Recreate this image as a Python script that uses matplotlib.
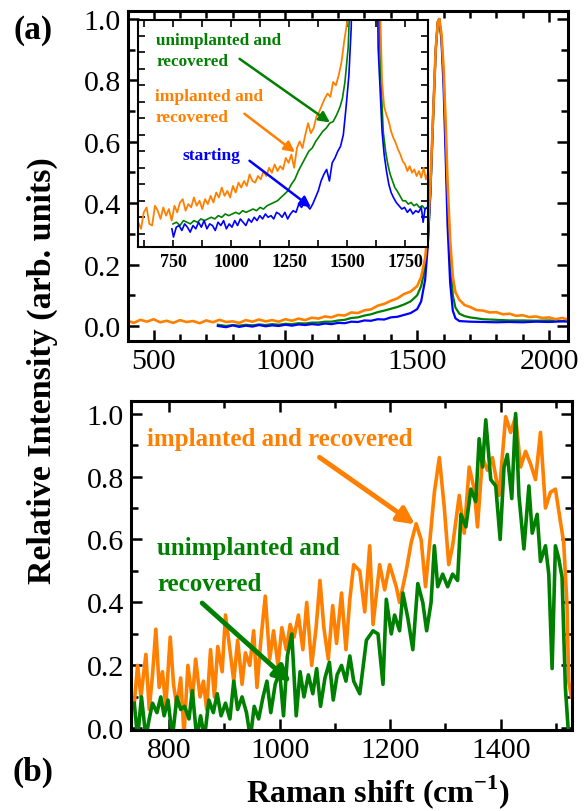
import numpy as np
from matplotlib import pyplot as plt

plt.rcParams['font.family'] = ['Liberation Serif', 'DejaVu Serif']
plt.rcParams['mathtext.fontset'] = 'custom'
plt.rcParams['mathtext.rm'] = 'Liberation Serif'
plt.rcParams['mathtext.bf'] = 'Liberation Serif:bold'

ORANGE = '#ff8000'
GREEN = '#008000'
BLUE = '#0000ff'

#-------------------------------------------------- (a) main spectra
a_orange_x = [400, 425, 450, 475, 500, 525, 550, 575, 600, 625, 650, 675, 700, 725, 750, 775,
              800, 825, 850, 875, 900, 925, 950, 975, 1000, 1025, 1050, 1075, 1100, 1125, 1150,
              1175, 1200, 1225, 1250, 1275, 1300, 1325, 1350, 1375, 1400, 1425, 1450, 1475, 1500,
              1515, 1530, 1540, 1550, 1560, 1570, 1578, 1584, 1592, 1600, 1608, 1615, 1625, 1635,
              1645, 1660, 1680, 1700, 1725, 1750, 1775, 1800, 1825, 1850, 1875, 1900, 1925, 1950,
              1975, 2000, 2025, 2050, 2072]
a_orange = [.018, .010, .020, .014, .022, .012, .017, .010, .019, .013, .016, .009, .018, .012, .020, .013,
            .015, .010, .019, .014, .021, .015, .019, .014, .022, .017, .024, .019, .027, .024, .031,
            .028, .036, .034, .044, .042, .051, .054, .066, .072, .082, .090, .104, .112, .13,
            .16, .22, .31, .46, .68, .90, .99, 1.0, .95, .84, .66, .47, .28, .16,
            .11, .085, .068, .062, .052, .050, .044, .045, .038, .040, .033, .035, .029, .031,
            .026, .028, .022, .026, .021]

a_green_x = [744, 775, 800, 825, 850, 875, 900, 925, 950, 975, 1000, 1025, 1050, 1075, 1100, 1125,
             1150, 1175, 1200, 1225, 1250, 1275, 1300, 1325, 1350, 1375, 1400, 1425, 1450, 1475,
             1500, 1515, 1530, 1540, 1550, 1560, 1570, 1578, 1584, 1592, 1600, 1608, 1615, 1625,
             1635, 1645, 1660, 1680, 1700, 1750, 1800, 1850, 1900, 1950, 2000, 2050, 2072]
a_green = [.004, .000, .003, .001, .004, .002, .005, .003, .006, .004, .007, .006, .009, .008, .011, .011,
           .014, .014, .018, .020, .026, .028, .034, .038, .045, .050, .056, .062, .070, .080,
           .100, .13, .19, .27, .43, .66, .89, .99, 1.0, .94, .82, .62, .42, .22,
           .10, .06, .04, .032, .028, .022, .020, .018, .018, .017, .018, .016, .018]

a_blue_x = a_green_x
a_blue = [.000, -.004, .002, -.003, .001, -.002, .003, -.001, .002, .000, .004, .001, .005, .003, .006, .004,
          .008, .006, .010, .009, .014, .013, .018, .017, .022, .021, .028, .030, .036, .042,
          .055, .08, .15, .26, .44, .68, .90, .99, 1.0, .93, .78, .55, .33, .14,
          .05, .025, .016, .015, .014, .013, .012, .013, .012, .014, .013, .015, .014]

#-------------------------------------------------- (a) inset
in_orange_x = [600, 612, 624, 636, 648, 660, 672, 684, 696, 708, 720, 732, 744, 756, 768, 780, 792,
               804, 816, 828, 840, 852, 864, 876, 888, 900, 912, 924, 936, 948, 960, 972, 984, 996,
               1008, 1020, 1032, 1044, 1056, 1068, 1080, 1092, 1104, 1116, 1128, 1140, 1152, 1164,
               1176, 1188, 1200, 1212, 1224, 1236, 1248, 1260, 1272, 1284, 1296, 1308, 1320, 1332,
               1344, 1356, 1368, 1380, 1392, 1404, 1416, 1428, 1440, 1452, 1464, 1476, 1488, 1500,
               1510, 1540, 1582, 1620, 1640, 1651, 1660, 1670, 1680, 1690, 1700, 1710, 1720, 1730,
               1740, 1750, 1760, 1770, 1780, 1790, 1800, 1810, 1820, 1830, 1840, 1849]
in_orange = [.015, .011, .021, .024, .014, .013, .025, .022, .017, .024, .019, .023, .016, .025, .021,
             .027, .029, .022, .026, .024, .030, .025, .028, .023, .029, .026, .031, .027, .033, .030,
             .036, .031, .034, .030, .037, .033, .039, .036, .040, .037, .044, .040, .039, .043, .041,
             .046, .043, .048, .045, .050, .046, .049, .047, .054, .051, .056, .048, .060, .064, .060,
             .068, .075, .069, .072, .079, .082, .086, .090, .093, .091, .100, .098, .104, .112, .125,
             .136, .20, .45, 1.0, .45, .16, .100, .085, .080, .076, .070, .066, .063, .059, .056,
             .052, .050, .046, .049, .045, .047, .043, .046, .042, .048, .041, .045]

in_green_x = [750, 765, 780, 795, 810, 825, 840, 855, 870, 885, 900, 915, 930, 945, 960, 975, 990,
              1005, 1020, 1035, 1050, 1065, 1080, 1095, 1110, 1125, 1140, 1155, 1170, 1185, 1200,
              1215, 1230, 1245, 1260, 1275, 1290, 1305, 1320, 1335, 1350, 1365, 1380, 1395, 1410,
              1425, 1440, 1455, 1470, 1480, 1491, 1505, 1525, 1582, 1630, 1643, 1656, 1666, 1676,
              1686, 1696, 1706, 1716, 1728, 1740, 1752, 1764, 1776, 1788, 1800, 1812, 1824, 1836, 1849]
in_green = [.014, .015, .013, .016, .015, .014, .016, .015, .017, .016, .017, .018, .017, .019, .018,
            .020, .019, .020, .021, .020, .022, .021, .022, .023, .022, .024, .023, .025, .026, .027,
            .028, .030, .032, .034, .038, .041, .046, .050, .054, .058, .060, .064, .067, .070, .072,
            .075, .076, .080, .085, .090, .100, .121, .20, 1.0, .20, .111, .070, .058, .050,
            .044, .040, .036, .034, .031, .028, .028, .026, .027, .025, .026, .024, .025, .023, .024]

in_blue_x = [745, 752, 764, 776, 788, 800, 812, 824, 836, 848, 860, 872, 884, 896, 908, 920, 932,
             944, 956, 968, 980, 992, 1004, 1016, 1028, 1040, 1052, 1064, 1076, 1088, 1100, 1112,
             1124, 1136, 1148, 1160, 1172, 1184, 1196, 1208, 1220, 1232, 1244, 1256, 1268, 1280,
             1292, 1304, 1316, 1328, 1340, 1352, 1364, 1376, 1388, 1400, 1412, 1424, 1436, 1448,
             1460, 1472, 1484, 1496, 1508, 1518, 1530, 1582, 1625, 1634, 1651, 1660, 1670, 1680,
             1690, 1700, 1712, 1724, 1736, 1748, 1760, 1772, 1784, 1796, 1808, 1820, 1828, 1836, 1845]
in_blue = [.011, .006, .012, .013, .010, .014, .012, .009, .013, .011, .015, .012, .016, .011, .014,
           .013, .010, .015, .013, .016, .011, .014, .012, .016, .013, .017, .015, .013, .017, .015,
           .018, .016, .019, .017, .020, .018, .019, .017, .021, .020, .018, .021, .017, .020, .022,
           .021, .026, .024, .027, .025, .023, .026, .030, .034, .040, .044, .047, .040, .051, .054,
           .058, .061, .068, .085, .104, .133, .25, 1.0, .25, .121, .070, .056, .046, .038,
           .033, .030, .027, .025, .023, .024, .021, .023, .020, .022, .021, .024, .015, .023, .024]

#-------------------------------------------------- (b) spectra
b_orange_x = [737, 743, 749, 758, 764, 770, 776, 782, 788, 794, 802, 808, 814, 821, 827, 834, 842,
              848, 856, 862, 868, 875, 882, 888, 896, 902, 910, 917, 924, 932, 938, 946, 953, 959,
              966, 974, 982, 989, 997, 1004, 1012, 1019, 1026, 1034, 1042, 1049, 1058, 1066, 1073,
              1080, 1088, 1096, 1103, 1112, 1120, 1127, 1134, 1145, 1154, 1163, 1169, 1181, 1190,
              1199, 1211, 1217, 1229, 1238, 1247, 1256, 1264, 1271, 1280, 1289, 1298, 1306, 1313,
              1325, 1334, 1343, 1352, 1358, 1367, 1376, 1385, 1397, 1409, 1418, 1427, 1436, 1445,
              1454, 1463, 1472, 1481, 1490, 1499, 1506, 1514, 1520, 1523, 1528]
b_orange = [.08, .20, .10, .235, .06, .17, .315, .13, .18, .07, .29, .14, .07, .16, -.02, .20, .09,
            .22, .10, .15, .06, .25, .10, .26, .18, .36, .25, .15, .28, .14, .24, .20, .31, .13,
            .28, .42, .22, .31, .20, .32, .25, .33, .29, .36, .25, .40, .20, .32, .47,
            .32, .22, .39, .27, .43, .25, .41, .52, .50, .37, .58, .33, .52, .44,
            .52, .45, .40, .50, .59, .65, .60, .45, .58, .75, .86, .70, .52, .58,
            .74, .62, .83, .76, .64, .86, .82, .86, .74, .99, .94, .99, .83, .88,
            .84, .79, .94, .70, .75, .76, .68, .59, .39, .15, .10]

b_green_x = [737, 743, 750, 758, 764, 770, 778, 785, 791, 798, 806, 814, 821, 828, 836, 842, 850,
             857, 864, 872, 880, 887, 894, 902, 910, 917, 924, 932, 940, 947, 954, 962, 970, 977,
             984, 992, 1000, 1007, 1014, 1022, 1030, 1037, 1044, 1052, 1060, 1067, 1074, 1082,
             1090, 1097, 1104, 1112, 1120, 1127, 1134, 1145, 1157, 1169, 1178, 1187, 1193, 1202,
             1208, 1217, 1223, 1232, 1241, 1250, 1259, 1266, 1274, 1280, 1286, 1295, 1304, 1313,
             1322, 1328, 1337, 1346, 1355, 1361, 1367, 1373, 1382, 1391, 1399, 1406, 1412, 1420,
             1427, 1433, 1442, 1451, 1457, 1466, 1472, 1481, 1487, 1493, 1499, 1505, 1511, 1517, 1522]
b_green = [.08, -.03, .10, -.03, .03, .08, .05, .10, .04, .09, -.03, .10, .06, .07, .03, .12, -.03,
           .04, -.03, .09, .05, .11, .04, .08, .03, .15, .06, .10, .05, -.03, .07, .03, .10, .15,
           .05, .14, .18, .04, .23, .30, .04, .18, .10, .17, .11, .19, .07, .16,
           .21, .09, .17, .20, .15, .23, .15, .11, .28, .31, .30, .14, .41, .30,
           .36, .31, .43, .35, .25, .46, .40, .31, .40, .58, .45, .49, .45, .49,
           .47, .68, .64, .76, .72, .92, .83, .98, .79, .77, .60, .83, .87, .73,
           1.0, .74, .57, .77, .62, .68, .53, .58, .49, .19, .58, .54, .48, .13, .0]

#--------------------------------------------------
fig = plt.figure(figsize=(5.86, 8.12), dpi=100)


def style_axes(ax, lw=2.2):
    for s in ax.spines.values():
        s.set_linewidth(lw)
    ax.tick_params(which='both', direction='in', top=True, right=True, width=1.8)
    ax.tick_params(which='major', length=8)
    ax.tick_params(which='minor', length=5)


# top panel
ax1 = fig.add_axes([0.2184, 0.5788, 0.7509, 0.4064])
ax1.plot(a_green_x, a_green, color=GREEN, lw=1.6)
ax1.plot(a_blue_x, a_blue, color=BLUE, lw=1.6)
ax1.plot(a_orange_x, a_orange, color=ORANGE, lw=1.9)
ax1.set_xlim(403, 2072)
ax1.set_ylim(-0.049, 1.026)
ax1.set_xticks([500, 1000, 1500, 2000])
ax1.set_xticks(np.arange(500, 2100, 100), minor=True)
ax1.set_yticks([0.0, 0.2, 0.4, 0.6, 0.8, 1.0])
ax1.set_yticks(np.arange(0.1, 1.0, 0.2), minor=True)
ax1.set_yticklabels(['0.0', '0.2', '0.4', '0.6', '0.8', '1.0'])
style_axes(ax1)
ax1.tick_params(labelsize=21.5, pad=5)

# inset
ax2 = fig.add_axes([0.2355, 0.6946, 0.4949, 0.2796])
ax2.plot(in_green_x, in_green, color=GREEN, lw=1.2)
ax2.plot(in_blue_x, in_blue, color=BLUE, lw=1.2)
ax2.plot(in_orange_x, in_orange, color=ORANGE, lw=1.3)
ax2.set_xlim(599, 1849)
ax2.set_ylim(0, 0.1376)
ax2.set_xticks([750, 1000, 1250, 1500, 1750])
ax2.set_xticks([625, 875, 1125, 1375, 1625], minor=True)
ax2.set_yticks(np.arange(0.008, 0.137, 0.01))
ax2.set_yticklabels([])
for s in ax2.spines.values():
    s.set_linewidth(1.5)
ax2.tick_params(which='both', direction='in', top=True, right=True, width=1.2, length=5)
ax2.tick_params(axis='x', labelsize=13, pad=4)
for t in ax2.get_xticklabels():
    t.set_fontweight('bold')

ax2.text(678, 0.1255, 'unimplanted and', color=GREEN, fontsize=12.3, fontweight='bold', va='center')
ax2.text(678, 0.1127, 'recovered', color=GREEN, fontsize=12.3, fontweight='bold', va='center')
ax2.text(673, 0.0915, 'implanted and', color=ORANGE, fontsize=12.5, fontweight='bold', va='center')
ax2.text(673, 0.0788, 'recovered', color=ORANGE, fontsize=12.5, fontweight='bold', va='center')
ax2.text(790, 0.0558, 'starting', color=BLUE, fontsize=12.5, fontweight='bold', va='center')
ax2.annotate('', xy=(1436, 0.0745), xytext=(1027, 0.115),
             arrowprops=dict(arrowstyle='-|>', color=GREEN, lw=1.8, mutation_scale=16))
ax2.annotate('', xy=(1285, 0.0564), xytext=(1048, 0.0818),
             arrowprops=dict(arrowstyle='-|>', color=ORANGE, lw=1.8, mutation_scale=16))
ax2.annotate('', xy=(1354, 0.023), xytext=(1070, 0.0533),
             arrowprops=dict(arrowstyle='-|>', color=BLUE, lw=1.8, mutation_scale=16))

# bottom panel
ax3 = fig.add_axes([0.2235, 0.0998, 0.7526, 0.4052])
ax3.plot(b_orange_x, b_orange, color=ORANGE, lw=2.6)
ax3.plot(b_green_x, b_green, color=GREEN, lw=2.6)
ax3.set_xlim(731, 1529)
ax3.set_ylim(-0.005, 1.04)
ax3.set_xticks([800, 1000, 1200, 1400])
ax3.set_xticks(np.arange(800, 1530, 100), minor=True)
ax3.set_yticks([0.0, 0.2, 0.4, 0.6, 0.8, 1.0])
ax3.set_yticks(np.arange(0.1, 1.0, 0.2), minor=True)
ax3.set_yticklabels(['0.0', '0.2', '0.4', '0.6', '0.8', '1.0'])
style_axes(ax3)
ax3.tick_params(labelsize=21.5, pad=5)

ax3.text(760, 0.92, 'implanted and recovered', color=ORANGE, fontsize=18, fontweight='bold', va='center')
ax3.text(778, 0.576, 'unimplanted and', color=GREEN, fontsize=18, fontweight='bold', va='center')
ax3.text(778, 0.459, 'recovered', color=GREEN, fontsize=18, fontweight='bold', va='center')
ax3.annotate('', xy=(1249, 0.643), xytext=(1068, 0.866),
             arrowprops=dict(arrowstyle='-|>', color=ORANGE, lw=3.5, mutation_scale=25))
ax3.annotate('', xy=(1024, 0.14), xytext=(856, 0.404),
             arrowprops=dict(arrowstyle='-|>', color=GREEN, lw=3.5, mutation_scale=25))

# labels
fig.text(0.072, 0.543, 'Relative Intensity (arb. units)', rotation=90, fontsize=24.5,
         fontweight='bold', ha='center', va='center')
fig.text(0.645, 0.012, 'Raman shift (cm$^{\\mathbf{-1}}$)', fontsize=23,
         fontweight='bold', ha='center', va='baseline')
fig.text(0.056, 0.963, '(a)', fontsize=24, fontweight='bold', ha='center', va='center')
fig.text(0.056, 0.049, '(b)', fontsize=24, fontweight='bold', ha='center', va='center')

plt.savefig('out.png', dpi=100)
